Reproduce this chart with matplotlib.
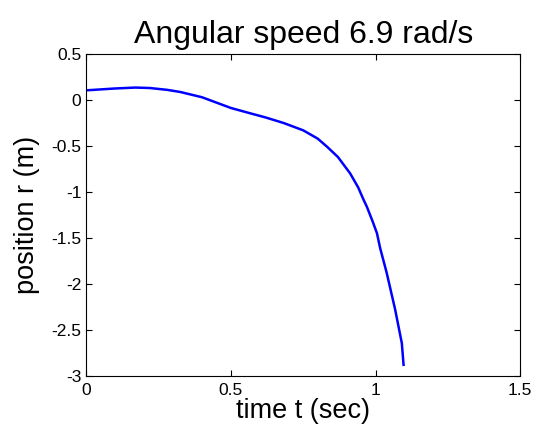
import matplotlib
matplotlib.use("Agg")
import matplotlib.pyplot as plt

t = [0.0, 0.05, 0.10, 0.17, 0.22, 0.28, 0.325, 0.40, 0.50, 0.567, 0.62, 0.682, 0.75, 0.80, 0.832, 0.87,
     0.912, 0.94, 0.959, 0.97, 0.99, 1.005, 1.016, 1.039, 1.068, 1.091, 1.097]
r = [0.105, 0.115, 0.125, 0.135, 0.13, 0.11, 0.087, 0.03, -0.087, -0.145, -0.19, -0.25, -0.33, -0.42, -0.507, -0.62,
     -0.797, -0.95, -1.087, -1.16, -1.32, -1.449, -1.61, -1.884, -2.28, -2.645, -2.88]

xticks = [0, 0.5, 1, 1.5]
xticklabels = ["0", "0.5", "1", "1.5"]
yticks = [0.5, 0, -0.5, -1, -1.5, -2, -2.5, -3]
yticklabels = ["0.5", "0", "-0.5", "-1", "-1.5", "-2", "-2.5", "-3"]

plt.rcParams['font.family'] = ['Liberation Sans', 'DejaVu Sans']
plt.rcParams['axes.unicode_minus'] = False

fig = plt.figure(figsize=(5.39, 4.32), dpi=100)
ax = fig.add_axes([0.16, 0.130, 0.805, 0.745])
ax.plot(t, r, color=(0, 0, 1), linewidth=1.8)
ax.set_xlim(0, 1.5)
ax.set_ylim(-3, 0.5)
ax.set_xticks(xticks)
ax.set_xticklabels(xticklabels)
ax.set_yticks(yticks)
ax.set_yticklabels(yticklabels)
ax.tick_params(direction='in', top=True, right=True, labelsize=12.5, length=4, width=0.8)
ax.tick_params(axis='x', pad=5.5)
ax.tick_params(axis='y', pad=3.5)
for s in ax.spines.values():
    s.set_linewidth(0.8)
ax.set_xlabel("time t (sec)", fontsize=19.5, labelpad=0)
ax.set_ylabel("position r (m)", fontsize=19.5, labelpad=8)
ax.set_title("Angular speed 6.9 rad/s", fontsize=23, pad=8)
fig.savefig("out.png", dpi=100)
